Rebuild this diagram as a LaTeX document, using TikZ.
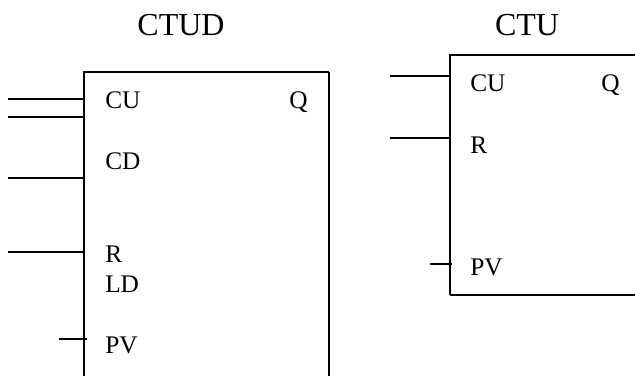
\documentclass[tikz,border=0pt]{standalone}
\usepackage{fontspec}
\setmainfont{Liberation Serif}
\tikzset{
  wire/.style={line width=1.2pt},
  pinlabel/.style={anchor=base west,inner sep=0pt,font=\fontsize{19}{19}\selectfont},
  blocktitle/.style={anchor=base,inner sep=0pt,font=\fontsize{24}{24}\selectfont}
}
\newcommand{\cnode}[1]{
    % Connection Node (for Referencing, not Visible)
    node (#1) [inner sep=0cm,minimum size=0cm] {}
}
\newcommand{\pinWE}[3]{
    % Input Line in West-East Orientation
    % \pinWE{name}{west end}{east end}
    \path #2 \cnode{#1W};
    \path #3 \cnode{#1E};
    \draw[wire] (#1W) -- (#1E);
}
\begin{document}
\begin{tikzpicture}[x=0.75pt,y=-0.75pt]
  \useasboundingbox (0,0) rectangle (635,376);
  % CTUD
  \node (ctudTitle) [blocktitle] at (181,35) {CTUD};
  \path (84,376) \cnode{ctudSW};
  \path (329,72) \cnode{ctudNE};
  \path (329,376) \cnode{ctudSE};
  \draw[wire] (ctudSW) |- (ctudNE) -- (ctudSE);
  \pinWE{ctudOne}{(8,99)}{(84,99)}
  \pinWE{ctudTwo}{(8,117)}{(84,117)}
  \pinWE{ctudCD}{(8,178)}{(84,178)}
  \pinWE{ctudR}{(8,252)}{(84,252)}
  \pinWE{ctudPV}{(59,339)}{(87,339)}
  \node (ctudCUtext) [pinlabel] at (105,108) {CU};
  \node (ctudQtext) [pinlabel] at (289,108) {Q};
  \node (ctudCDtext) [pinlabel] at (105,169) {CD};
  \node (ctudRtext) [pinlabel] at (105,262) {R};
  \node (ctudLDtext) [pinlabel] at (105,292) {LD};
  \node (ctudPVtext) [pinlabel] at (105,353) {PV};
  % CTU
  \node (ctuTitle) [blocktitle] at (527,35) {CTU};
  \path (635,55) \cnode{ctuNE};
  \path (450,295) \cnode{ctuSW};
  \path (635,295) \cnode{ctuSE};
  \draw[wire] (ctuNE) -| (ctuSW) -- (ctuSE);
  \pinWE{ctuCU}{(390,76)}{(450,76)}
  \pinWE{ctuR}{(390,138)}{(450,138)}
  \pinWE{ctuPV}{(430,264)}{(452,264)}
  \node (ctuCUtext) [pinlabel] at (470,91) {CU};
  \node (ctuQtext) [pinlabel] at (601,91) {Q};
  \node (ctuRtext) [pinlabel] at (470,153) {R};
  \node (ctuPVtext) [pinlabel] at (470,275) {PV};
\end{tikzpicture}
\end{document}
